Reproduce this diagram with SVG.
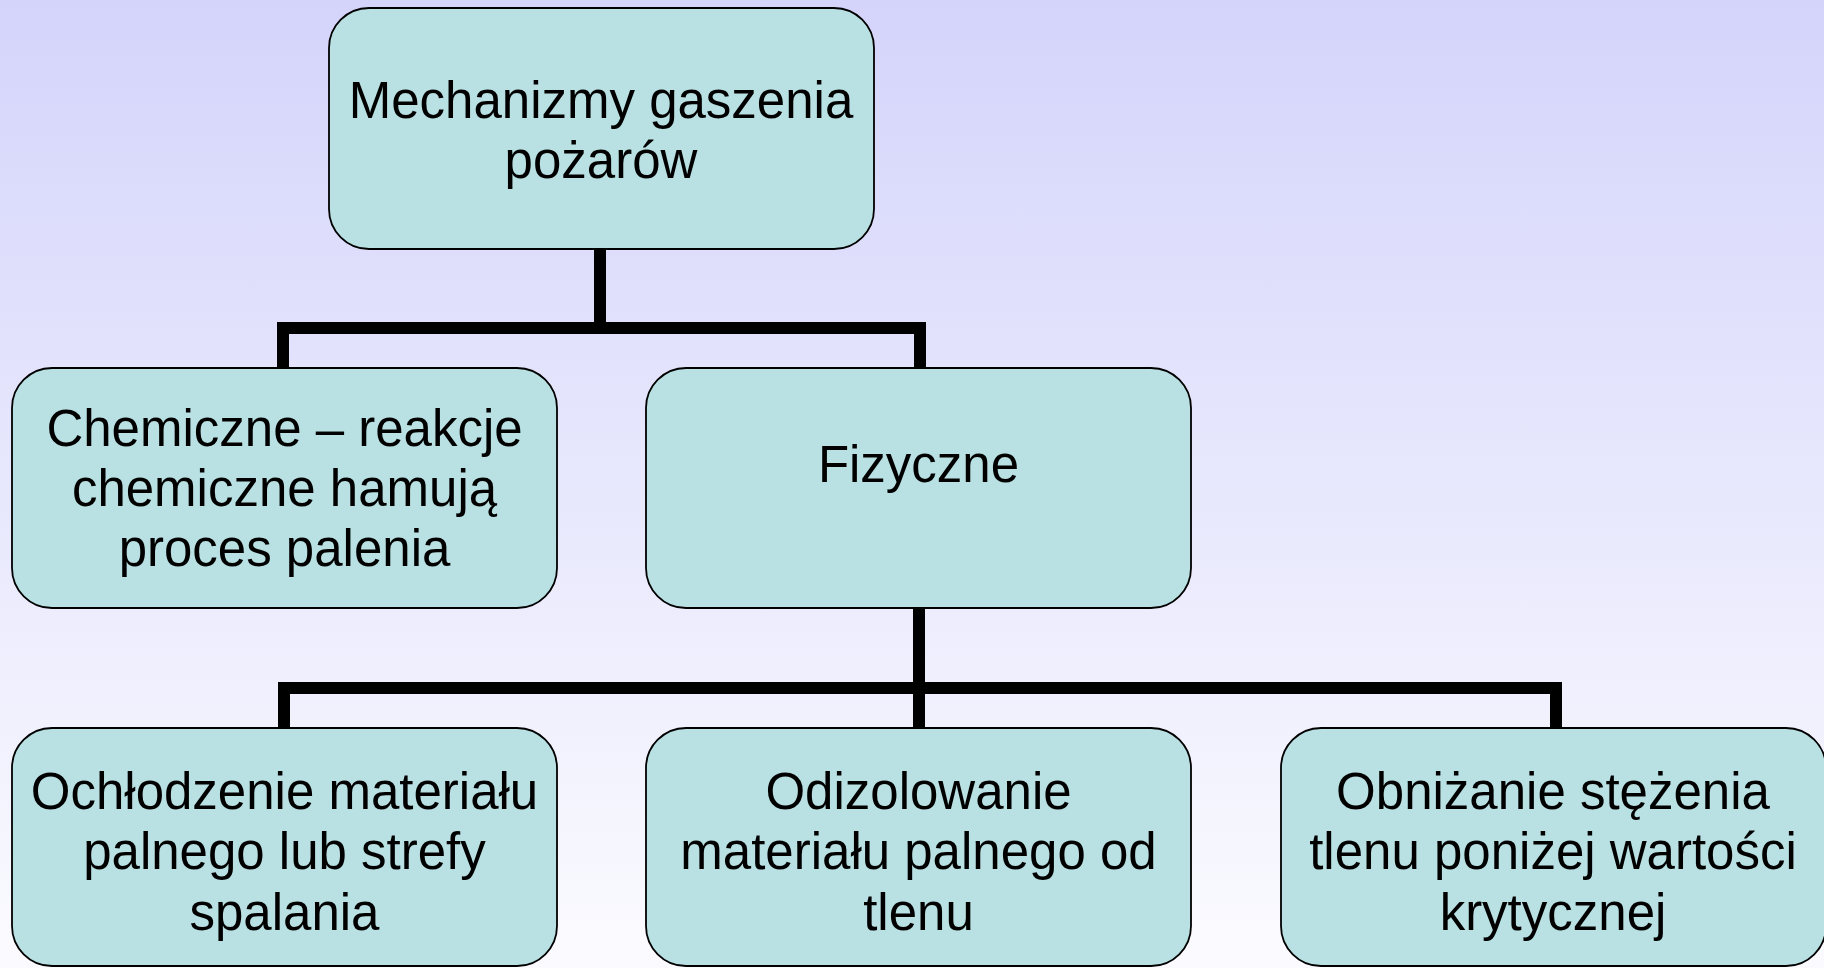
<svg xmlns="http://www.w3.org/2000/svg" width="1824" height="968" viewBox="0 0 1824 968">
<defs>
<linearGradient id="bg" x1="0" y1="0" x2="0" y2="1">
<stop offset="0" stop-color="#d4d4fb"/>
<stop offset="1" stop-color="#fbfbff"/>
</linearGradient>
<style>
.box{fill:#b9e0e2;stroke:#000;stroke-width:1.8}
.t{font-family:"Liberation Sans",Arial,sans-serif;font-size:51px;fill:#000;text-anchor:middle}
.c{fill:none;stroke:#000;stroke-width:12;stroke-linecap:butt;stroke-linejoin:miter}
</style>
</defs>
<rect width="1824" height="968" fill="url(#bg)"/>
<g id="connectors">
<path class="c" d="M600 249 V328 M283 368 V328 H920 V368"/>
<path class="c" d="M919 608 V688 M284 728 V688 H1556 V728 M919 688 V728"/>
</g>
<g id="root">
<rect class="box" x="329" y="8" width="545" height="241" rx="40"/>
<text class="t" x="601" y="118">Mechanizmy gaszenia</text>
<text class="t" x="601" y="178">pożarów</text>
</g>
<g id="chemiczne">
<rect class="box" x="12" y="368" width="545" height="240" rx="40"/>
<text class="t" x="284.5" y="446">Chemiczne – reakcje</text>
<text class="t" x="284.5" y="506">chemiczne hamują</text>
<text class="t" x="284.5" y="566">proces palenia</text>
</g>
<g id="fizyczne">
<rect class="box" x="646" y="368" width="545" height="240" rx="40"/>
<text class="t" x="918.5" y="482">Fizyczne</text>
</g>
<g id="ochlodzenie">
<rect class="box" x="12" y="728" width="545" height="238" rx="40"/>
<text class="t" x="284.5" y="809">Ochłodzenie materiału</text>
<text class="t" x="284.5" y="869">palnego lub strefy</text>
<text class="t" x="284.5" y="930">spalania</text>
</g>
<g id="odizolowanie">
<rect class="box" x="646" y="728" width="545" height="238" rx="40"/>
<text class="t" x="918.5" y="809">Odizolowanie</text>
<text class="t" x="918.5" y="869">materiału palnego od</text>
<text class="t" x="918.5" y="930">tlenu</text>
</g>
<g id="obnizanie">
<rect class="box" x="1281" y="728" width="545" height="238" rx="40"/>
<text class="t" x="1553" y="809">Obniżanie stężenia</text>
<text class="t" x="1553" y="869">tlenu poniżej wartości</text>
<text class="t" x="1553" y="930">krytycznej</text>
</g>
</svg>
